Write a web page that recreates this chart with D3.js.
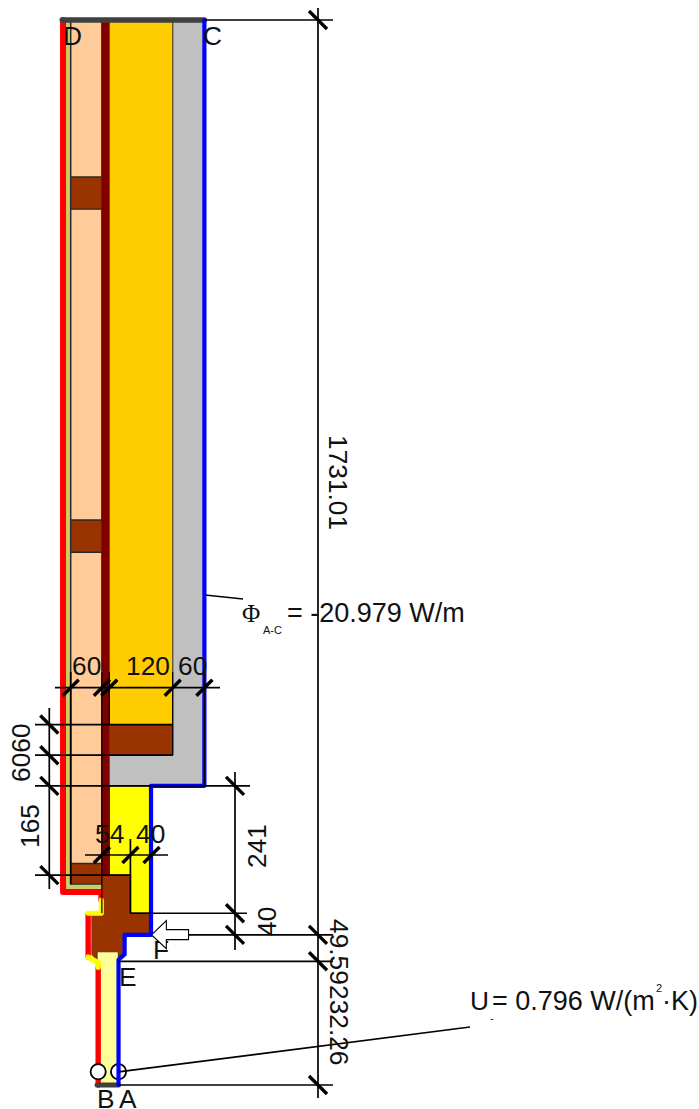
<!DOCTYPE html>
<html>
<head>
<meta charset="utf-8">
<title>Thermal bridge section</title>
<script src="https://cdn.jsdelivr.net/npm/d3@7"></script>
<style>
  html, body { margin: 0; padding: 0; background: #fff; }
  svg { display: block; }
  text { font-family: "Liberation Sans", Arial, sans-serif; font-size: 26.3px; fill: #111; }
</style>
</head>
<body>
<svg id="svg" width="699" height="1109"></svg>
<script>
'use strict';

// Section geometry, millimetres from the top left of the peach layer
const peach = [[0, 0], [59, 0], [59, 1596], [0, 1596]];
const lime = [[-10, 0], [0, 0], [0, 1635], [59, 1635], [59, 1650], [-10, 1650]];
const woodBlockA = [[0, 297], [59, 297], [59, 358], [0, 358]];
const woodBlockB = [[0, 946], [59, 946], [59, 1007], [0, 1007]];
const woodBlockC = [[0, 1596], [59, 1596], [59, 1635], [0, 1635]];
const darkLayer = [[59, 0], [73, 0], [73, 1618], [59, 1618]];
const orange = [[73, 0], [193, 0], [193, 1333], [73, 1333]];
const woodBlockD = [[73, 1333], [193, 1333], [193, 1391], [73, 1391]];
const grey = [[193, 0], [253, 0], [253, 1449], [73, 1449], [73, 1391], [193, 1391]];
const yellow = [[73, 1449], [152, 1449], [152, 1690], [113, 1690], [113, 1618], [73, 1618]];
const frame = [[59, 1618], [113, 1618], [113, 1690], [152, 1690], [152, 1731], [102, 1731],
  [102, 1765], [90, 1781], [50, 1781], [39, 1768], [39, 1690], [59, 1690]];
const glazing = [[50, 1763], [90, 1763], [90, 2015], [50, 2015]];

// Boundary lines
const blueLine = [[253, 0], [253, 1449], [152, 1449], [152, 1731], [102, 1731], [102, 1768], [90.5, 1778], [90.5, 2015]];
const redUpper = [[-14.5, 0], [-14.5, 1650], [58, 1650], [58, 1665]];
const redMiddle = [[33, 1693], [33, 1773]];
const redLower = [[52, 1792], [52, 2015]];
const yellowLink = [[58, 1665], [58, 1690], [33, 1690]];
const yellowTail = [[33, 1773], [52, 1784], [52, 1792]];
const topBar = [[-16, 0], [253, 0]];
const bottomBar = [[50, 2015], [90.5, 2015]];

// Dimension chains
const horizStations = [0, 59, 73, 193, 253];
const innerStations = [59, 113, 153];
const leftStations = [1333, 1391, 1449, 1618];
const midStations = [1449, 1690, 1731];
const rightStations = [0, 1731, 1781, 2015];
const readingPoints = [[52, 1990], [90.5, 1990]];

const arrowShape = [[153, 1731], [181, 1704], [181, 1721], [223, 1721], [223, 1740], [181, 1740], [181, 1757]];

const colors = {
  peach: '#ffcc99', lime: '#cccc66', wood: '#993300', dark: '#800000', orange: '#ffcc00',
  grey: '#c0c0c0', yellow: '#ffff00', glazing: '#ffff99', red: '#ff0000', blue: '#0000ff', bar: '#404040',
};

const x = d3.scaleLinear().domain([0, 253]).range([70.7, 204.4]);
const y = d3.scaleLinear().domain([0, 2015]).range([20, 1085]);
const path = d3.line().x(d => x(d[0])).y(d => y(d[1]));

const svg = d3.select('#svg');

// Filled materials
const fills = [
  [grey, colors.grey, 0.8], [lime, colors.lime, 0], [peach, colors.peach, 1.5], [woodBlockA, colors.wood, 1.3],
  [woodBlockB, colors.wood, 1.3], [woodBlockC, colors.wood, 1.3], [orange, colors.orange, 0.8], [woodBlockD, colors.wood, 0.8],
  [yellow, colors.yellow, 1.4], [darkLayer, colors.dark, 0], [frame, colors.wood, 0], [glazing, colors.glazing, 0.8],
];
svg.append('g').selectAll('path').data(fills).join('path')
  .attr('d', d => path(d[0]) + 'Z')
  .attr('fill', d => d[1])
  .attr('stroke', '#2a2a2a')
  .attr('stroke-width', d => d[2]);

// Thick boundary conditions
function boundary(points, color, width) {
  svg.append('path').attr('d', path(points)).attr('fill', 'none').attr('stroke', color)
    .attr('stroke-width', width).attr('stroke-linecap', 'round').attr('stroke-linejoin', 'round');
}
boundary(redUpper, colors.red, 6);
boundary(redMiddle, colors.red, 5.4);
boundary(redLower, colors.red, 5.4);
boundary(yellowLink, colors.yellow, 5);
boundary(yellowTail, colors.yellow, 5.4);
boundary(topBar, colors.bar, 5.5);
boundary(bottomBar, colors.bar, 5);

// Reading points sit under the blue boundary
svg.append('g').selectAll('circle').data(readingPoints).join('circle')
  .attr('cx', d => x(d[0])).attr('cy', d => y(d[1])).attr('r', 7.6)
  .attr('fill', '#fff').attr('stroke', '#000').attr('stroke-width', 1.8);

boundary(blueLine, colors.blue, 4.2);

// F sits behind the heat flow arrow
function label(str, px, py, rotate) {
  const t = svg.append('text').text(str);
  t.attr('transform', `translate(${px},${py})` + (rotate ? ` rotate(${rotate})` : ''));
  return t;
}
label('F', 153, 959);
svg.append('path').attr('d', path(arrowShape) + 'Z')
  .attr('fill', '#fff').attr('stroke', '#000').attr('stroke-width', 1.1);

// Dimension lines
const dims = svg.append('g').attr('stroke', '#000').attr('fill', 'none');
function line(x1, y1, x2, y2, w) {
  dims.append('line').attr('x1', x1).attr('y1', y1).attr('x2', x2).attr('y2', y2)
    .attr('stroke-width', w || 1.7);
}
function hTicks(stations, yPx) {
  stations.forEach(s => line(x(s) - 8, yPx + 8, x(s) + 8, yPx - 8, 3.4));
}
function vTicks(stations, xPx) {
  stations.forEach(s => line(xPx - 9, y(s) - 9, xPx + 9, y(s) + 9, 3.4));
}

// Chain above the bottom of the wall
const horizY = 687.7;
line(55, horizY, 220, horizY);
line(x(0), 672, x(0), y(1635));
line(x(59), 672, x(59), y(1690), 1.2);
line(x(73), 672, x(73), y(1333), 1.2);
line(x(193), 672, x(193), y(1391), 1.2);
line(x(253), 672, x(253), y(1449), 1);
hTicks(horizStations, horizY);

// Chain on the left
const leftX = 49.3;
line(leftX, 708, leftX, 889);
line(35, y(1333), x(193), y(1333));
line(35, y(1391), x(193), y(1391));
line(35, y(1449), 250, y(1449));
line(35, y(1618), x(113), y(1618));
vTicks(leftStations, leftX);

// Window frame chain
const innerY = 855;
line(85, innerY, 168, innerY);
line(x(113), 839, x(113), y(1690));
hTicks(innerStations, innerY);

// Chain right of the frame
const midX = 235;
line(midX, 772, midX, 950);
line(x(113), y(1690), 247, y(1690));
vTicks(midStations, midX);

// Overall chain
const rightX = 318;
line(rightX, 8, rightX, 1098);
line(x(253), y(0), 333, y(0));
line(x(223), y(1731), 333, y(1731));
line(x(90.5), y(1781), 333, y(1781));
line(x(90.5), y(2015), 333, y(2015));
vTicks(rightStations, rightX);

// Leaders
line(205, 595, 243, 599);
line(x(90.5), y(1990), 470, 1027);

// Labels
label('D', 63, 45);
label('C', 203, 45);
label('E', 119, 986);
label('B', 97, 1108);
label('A', 119, 1108);

label('60', 72, 675);
label('120', 126, 675);
label('60', 178, 675);
label('54', 95, 843);
label('40', 136, 843);

label('6060', 30, 782, -90);
label('165', 39, 848, -90);
label('241', 266, 868, -90);
label('40', 276, 936, -90);
label('1731.01', 329, 435, 90);
label('49.59', 330, 919, 90);
label('232.26', 330, 985, 90);

// Flux result
label('\u03a6', 242, 622).style('font-family', '"Liberation Serif", serif').style('font-size', '25px');
label('A-C', 263, 634).style('font-size', '11px');
label('= -20.979 W/m', 287, 622).style('font-size', '27px');

// Transmittance result
label('U', 470, 1010);
label('-', 490, 1022).style('font-size', '11px');
label('= 0.796 W/(m', 492, 1010).style('font-size', '27px');
label('2', 656, 992).style('font-size', '11px');
label('\u00b7K)', 662, 1010).style('font-size', '27px');
</script>
</body>
</html>
